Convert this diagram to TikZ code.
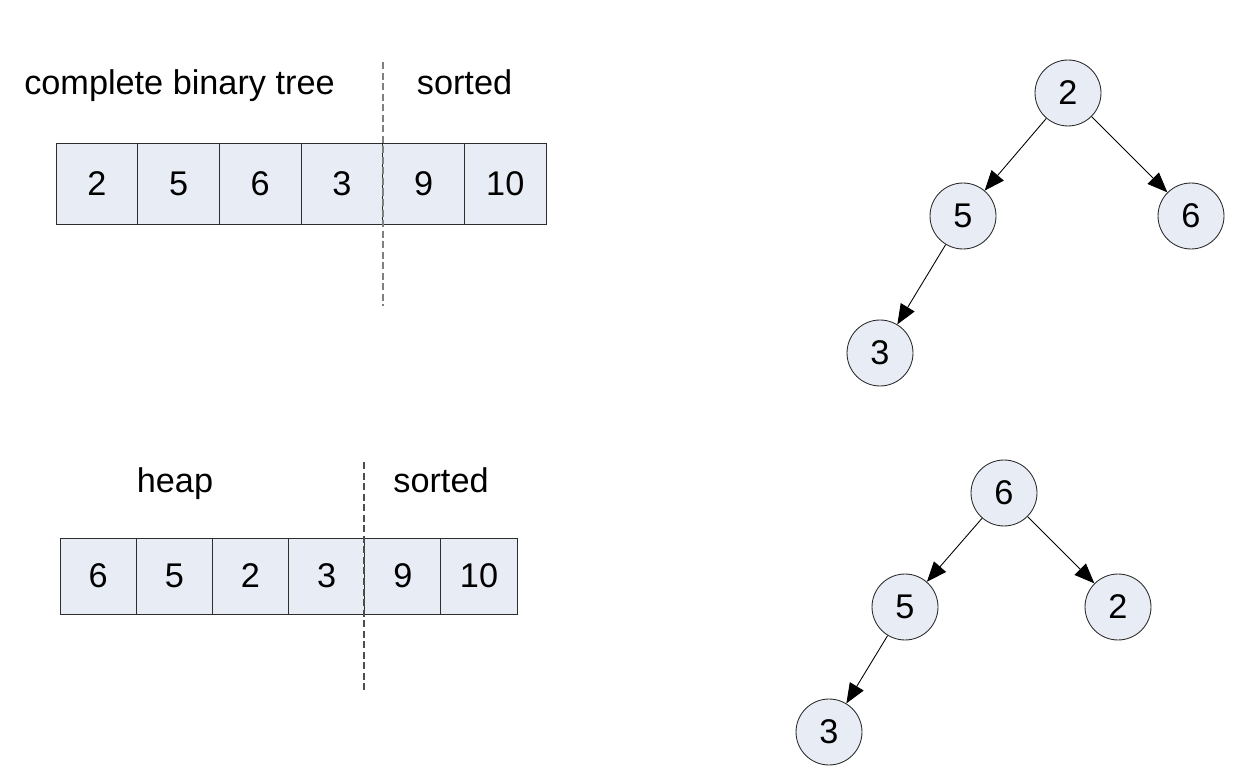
\documentclass[tikz,border=0pt]{standalone}
\usepackage{fontspec}
\setmainfont{Liberation Sans}
\usetikzlibrary{positioning,arrows.meta}
\definecolor{cellfill}{RGB}{232,236,245}
\definecolor{cellline}{RGB}{45,45,45}
\tikzset{
  cell/.style={draw=cellline, fill=cellfill, line width=0.5pt, minimum width=1.634cm, minimum height=1.62cm, inner sep=0pt, outer sep=0pt},
  smallcell/.style={cell, minimum width=1.524cm, minimum height=1.52cm},
  treenode/.style={circle, draw=cellline, fill=cellfill, line width=0.5pt, minimum size=1.32cm, inner sep=0pt},
  treearrow/.style={-{Triangle[length=0.4cm,width=0.32cm]}, line width=0.5pt},
  divider/.style={draw=gray, line width=0.6pt, dash pattern=on 4pt off 2pt}
}
\begin{document}
\begin{tikzpicture}[x=0.02cm, y=-0.02cm, font=\fontsize{19.5}{23}\selectfont]
\useasboundingbox (0,0) rectangle (1258,780);
% array before heapify
\node (lblTree) at (179.5,86) {complete binary tree};
\node (lblSortA) at (464.5,82.5) {sorted};
\node[cell] (a1) at (96.85,183.5) {2};
\node[cell, right=0pt of a1] (a2) {5};
\node[cell, right=0pt of a2] (a3) {6};
\node[cell, right=0pt of a3] (a4) {3};
\node[cell, right=0pt of a4] (a5) {9};
\node[cell, right=0pt of a5] (a6) {10};
\coordinate (cutAtop) at (383,62);
\coordinate (cutAbot) at (383,306);
\draw[divider] (cutAtop) -- (cutAbot);
% tree before heapify
\node[treenode] (t2) at (1068,93) {2};
\node[treenode] (t5) at (963,216) {5};
\node[treenode] (t6) at (1191,216) {6};
\node[treenode] (t3) at (880,353) {3};
\draw[treearrow] (t2) -- (t5);
\draw[treearrow] (t2) -- (t6);
\draw[treearrow] (t5) -- (t3);
% array after heapify
\node (lblHeap) at (175,484) {heap};
\node (lblSortB) at (441,480.5) {sorted};
\node[smallcell] (b1) at (98.1,576) {6};
\node[smallcell, right=0pt of b1] (b2) {5};
\node[smallcell, right=0pt of b2] (b3) {2};
\node[smallcell, right=0pt of b3] (b4) {3};
\node[smallcell, right=0pt of b4] (b5) {9};
\node[smallcell, right=0pt of b5] (b6) {10};
\coordinate (cutBtop) at (364,462);
\coordinate (cutBbot) at (364,691);
\draw[divider, draw=gray!60!black] (cutBtop) -- (cutBbot);
% tree after heapify
\begin{scope}[every node/.append style={minimum size=1.22cm}]
\node[treenode] (h6) at (1004,493) {6};
\node[treenode] (h5) at (905,607) {5};
\node[treenode] (h2) at (1118,607) {2};
\node[treenode] (h3) at (829,732) {3};
\end{scope}
\draw[treearrow] (h6) -- (h5);
\draw[treearrow] (h6) -- (h2);
\draw[treearrow] (h5) -- (h3);
\end{tikzpicture}
\end{document}
